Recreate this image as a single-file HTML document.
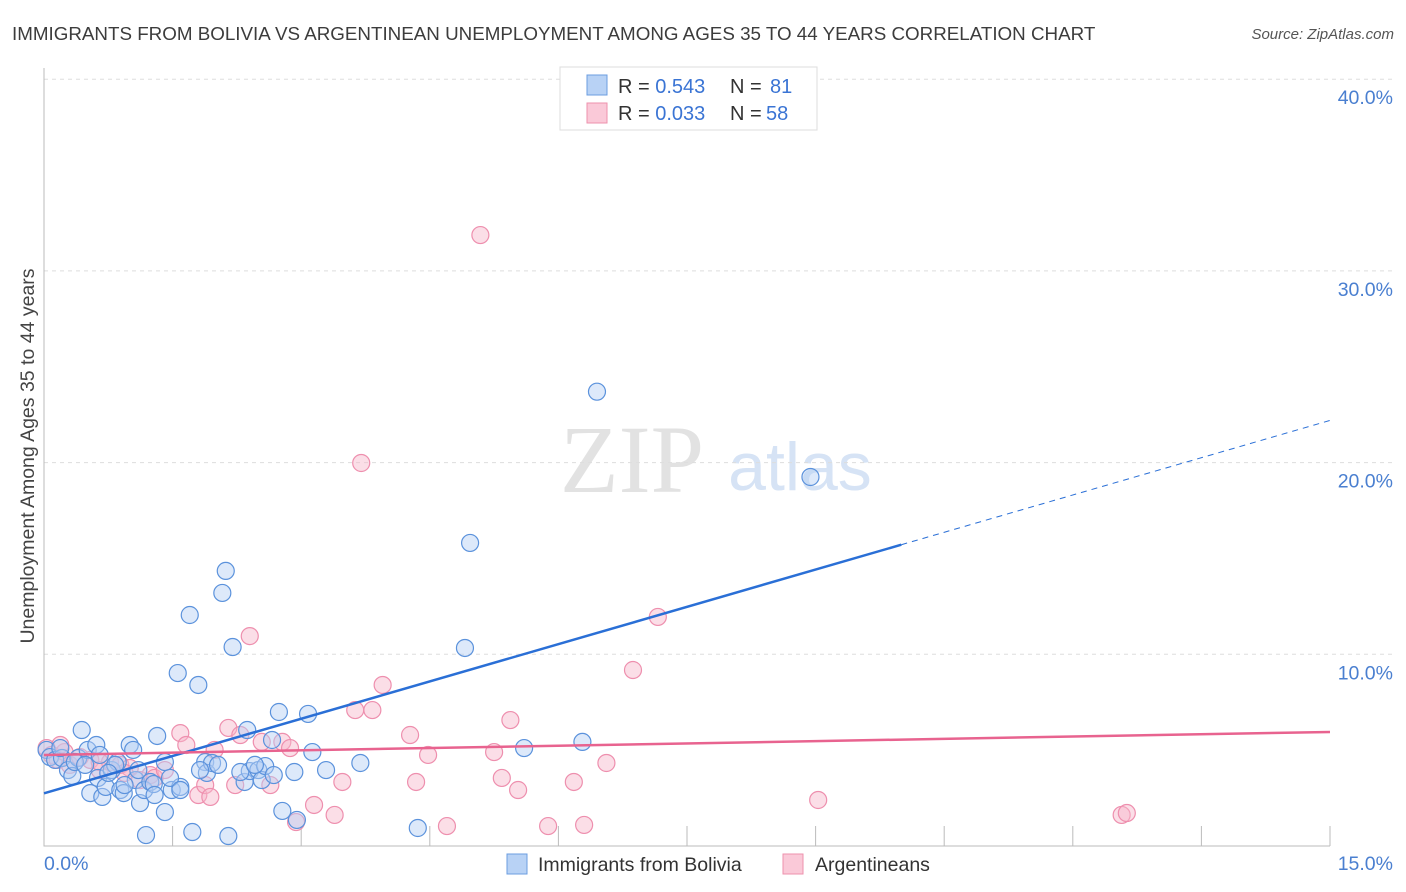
<!DOCTYPE html>
<html><head><meta charset="utf-8"><style>
body{margin:0;background:#fff;width:1406px;height:892px;overflow:hidden;font-family:"Liberation Sans",sans-serif}
</style></head><body>
<svg id="c" width="1406" height="892" style="position:absolute;left:0;top:0">
<text x="12" y="40" font-size="18.8" fill="#3c3c3c">IMMIGRANTS FROM BOLIVIA VS ARGENTINEAN UNEMPLOYMENT AMONG AGES 35 TO 44 YEARS CORRELATION CHART</text>
<text x="1394" y="39" font-size="15" fill="#555" font-style="italic" text-anchor="end">Source: ZipAtlas.com</text>
<text x="632" y="492" font-size="96" fill="#e2e2e2" font-family="Liberation Serif,serif" text-anchor="middle">ZIP</text>
<text x="800" y="490" font-size="68" fill="#d6e3f5" text-anchor="middle">atlas</text>
<text transform="translate(34,456) rotate(-90)" font-size="19.5" fill="#444" text-anchor="middle">Unemployment Among Ages 35 to 44 years</text>
<g id="grid"></g><g id="pts"></g><g id="lines"></g>
<g>
<rect x="560" y="67" width="257" height="63" fill="#fff" stroke="#ddd"/>
<rect x="587" y="75" width="20" height="20" fill="#b8d2f5" stroke="#6b9de0"/>
<rect x="587" y="103" width="20" height="20" fill="#fac9d8" stroke="#ee91ad"/>
<text x="618" y="93" font-size="20" fill="#333">R = <tspan fill="#3a74d4">0.543</tspan><tspan x="730">N = </tspan><tspan x="770" fill="#3a74d4">81</tspan></text>
<text x="618" y="120" font-size="20" fill="#333">R = <tspan fill="#3a74d4">0.033</tspan><tspan x="730">N = </tspan><tspan x="766" fill="#3a74d4">58</tspan></text>
</g>
<g>
<rect x="507" y="854" width="20" height="20" fill="#b8d2f5" stroke="#6b9de0"/>
<text x="538" y="871" font-size="19.5" fill="#333">Immigrants from Bolivia</text>
<rect x="783" y="854" width="20" height="20" fill="#fac9d8" stroke="#ee91ad"/>
<text x="815" y="871" font-size="19.5" fill="#333">Argentineans</text>
</g>
</svg>
<script>
const yTicks=[10,20,30,40];
const yTickLabels=["10.0%","20.0%","30.0%","40.0%"];
const xTickLabels=["0.0%","15.0%"];
const blueX=[0.03,0.07,0.13,0.21,0.28,0.33,0.40,0.44,0.51,0.54,0.61,0.63,0.68,0.72,0.79,0.86,0.89,0.93,1.00,1.04,1.07,1.12,1.17,1.24,1.28,1.32,1.19,1.41,1.41,1.49,1.56,1.59,1.70,1.73,1.80,1.88,1.90,1.96,2.03,2.08,2.12,2.15,2.20,2.34,2.37,2.40,2.50,2.54,2.58,2.66,2.68,2.74,2.78,2.92,2.95,3.08,3.13,3.29,3.69,4.36,4.91,4.97,5.60,6.28,6.45,8.94,0.19,0.36,0.65,0.83,0.75,1.10,1.47,1.82,2.29,2.46,1.59,1.29,0.94,0.48];
const blueY=[5.01,4.64,4.49,4.59,3.96,3.65,4.59,6.05,5.01,2.76,5.27,3.55,2.56,3.08,3.96,4.38,2.92,2.76,5.27,5.01,3.44,2.24,2.92,3.34,3.23,5.74,0.57,4.38,1.77,2.92,9.02,3.08,12.05,0.73,8.40,4.38,3.81,4.33,4.23,13.2,14.35,0.52,10.38,3.34,6.05,3.91,3.96,3.44,4.17,5.53,3.70,6.99,1.83,3.86,1.36,6.89,4.90,3.96,4.33,0.94,10.33,15.81,5.11,5.43,23.7,19.25,5.11,4.38,4.75,4.23,3.81,3.96,3.55,3.96,3.86,4.23,2.92,2.66,3.18,4.23];
const pinkX=[0.03,0.09,0.16,0.24,0.30,0.42,0.54,0.65,0.77,0.89,1.00,1.12,1.24,1.29,1.41,1.59,1.66,1.80,1.88,1.94,1.99,2.15,2.23,2.29,2.40,2.54,2.64,2.78,2.87,2.94,3.15,3.39,3.48,3.63,3.83,3.95,4.27,4.34,4.48,4.70,5.09,5.25,5.34,5.44,5.53,5.88,3.70,6.18,6.30,6.56,6.87,7.16,9.03,12.57,12.63,0.19,0.65,0.94];
const pinkY=[5.11,4.75,4.49,4.90,4.23,4.64,4.49,3.96,4.38,4.23,4.07,3.44,3.70,3.55,3.96,5.89,5.27,2.66,3.18,2.56,5.01,6.16,3.18,5.79,10.95,5.43,3.18,5.43,5.11,1.25,2.14,1.62,3.34,7.09,7.09,8.40,5.79,3.34,4.75,1.04,31.87,4.90,3.55,6.57,2.92,1.04,19.98,3.34,1.10,4.33,9.18,11.95,2.40,1.62,1.72,5.27,4.38,3.81];
const blueTrend=[2.75,22.2]; const pinkTrend=[4.75,5.95];
const X0=44,X1=1330,Y0=846,PY=19.17;
const xs=v=>X0+v*(X1-X0)/15, ys=v=>Y0-v*PY;
const NS="http://www.w3.org/2000/svg";
function mk(t,a,p){const e=document.createElementNS(NS,t);for(const k in a)e.setAttribute(k,a[k]);p.appendChild(e);return e;}
const g=document.getElementById('grid');
yTicks.forEach((t,i)=>{
 const l=mk('line',{x1:X0,x2:1394,y1:ys(t),y2:ys(t),stroke:'#ddd','stroke-dasharray':'4,4'},g);
 
 
 const tx=mk('text',{x:1393,y:ys(t)+25,'font-size':19.5,fill:'#4a7fd0','text-anchor':'end'},g);
 tx.textContent=yTickLabels[i];
 
 
});
const ax=mk('path',{d:`M${X0},68V${Y0}H${X1}`,stroke:'#bbb',fill:'none'},g);


for(let i=1;i<=10;i++){const x=xs(i*1.5);const t=mk('line',{x1:x,x2:x,y1:Y0,y2:Y0-20,stroke:'#bbb'},g);
 
 }
[[0,'start',44],[15,'end',1393]].forEach((d,i)=>{const t=mk('text',{x:d[2],y:870,'font-size':19.5,fill:'#4a7fd0','text-anchor':d[1]},g);t.textContent=xTickLabels[i];
 
 });
const P=document.getElementById('pts');
function dots(X,Y,f,s,n){X.forEach((x,i)=>{const c=mk('circle',{cx:xs(x),cy:ys(Y[i]),r:8.5,fill:f,'fill-opacity':0.45,stroke:s,'stroke-width':1.2},P);
 
 });}
dots(pinkX,pinkY,'#f7b6ca','#ee8fae','point-argentineans');
dots(blueX,blueY,'#b3cef3','#5b92dc','point-bolivia');
const L=document.getElementById('lines');
const bx=10.0, by=blueTrend[0]+(blueTrend[1]-blueTrend[0])*bx/15;
let e=mk('line',{x1:xs(0),y1:ys(blueTrend[0]),x2:xs(bx),y2:ys(by),stroke:'#2a6fd6','stroke-width':2.5},L);


e=mk('line',{x1:xs(bx),y1:ys(by),x2:xs(15),y2:ys(blueTrend[1]),stroke:'#2a6fd6','stroke-width':1,'stroke-dasharray':'6,5'},L);


e=mk('line',{x1:xs(0),y1:ys(pinkTrend[0]),x2:xs(15),y2:ys(pinkTrend[1]),stroke:'#e8638f','stroke-width':2.5},L);


</script>
</body></html>
